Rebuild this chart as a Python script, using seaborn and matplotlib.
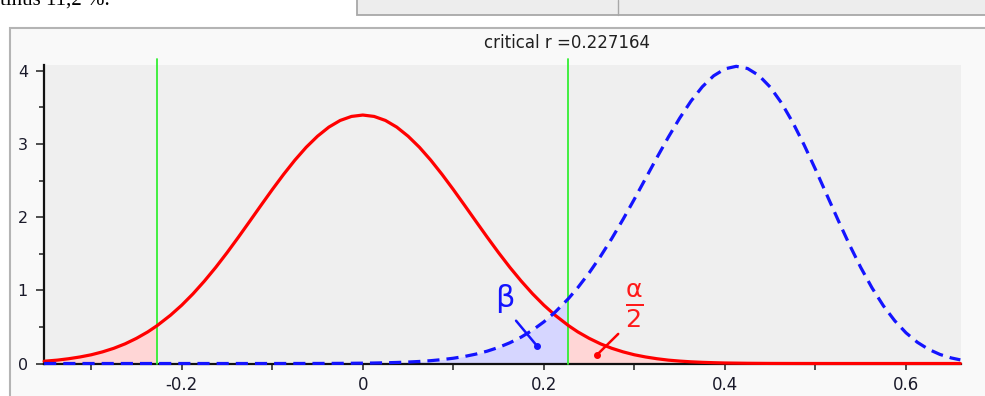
import numpy as np
import pandas as pd
import seaborn as sns
import matplotlib.pyplot as plt
from matplotlib.patches import Rectangle
from matplotlib.ticker import MultipleLocator

# valori (pas 0.0125)
r_grid = [-0.352, -0.3375, -0.325, -0.3125, -0.3, -0.2875, -0.275, -0.2625, -0.25, -0.2375,
          -0.227164, -0.2125, -0.2, -0.1875, -0.175, -0.1625, -0.15, -0.1375, -0.125, -0.1125,
          -0.1, -0.0875, -0.075, -0.0625, -0.05, -0.0375, -0.025, -0.0125, 0.0,
          0.0125, 0.025, 0.0375, 0.05, 0.0625, 0.075, 0.0875, 0.1, 0.1125, 0.125, 0.1375,
          0.15, 0.1625, 0.175, 0.1875, 0.2, 0.2125, 0.227164, 0.2375, 0.25, 0.2625, 0.275,
          0.2875, 0.3, 0.3125, 0.325, 0.3375, 0.35, 0.3625, 0.375, 0.3875, 0.4, 0.4125, 0.425,
          0.4375, 0.45, 0.4625, 0.475, 0.4875, 0.5, 0.5125, 0.525, 0.5375, 0.55, 0.5625, 0.575,
          0.5875, 0.6, 0.6125, 0.625, 0.6375, 0.65, 0.66]
dens_h0 = [0.031, 0.046, 0.065, 0.089, 0.119, 0.159, 0.208, 0.269, 0.344, 0.432,
           0.518, 0.659, 0.797, 0.953, 1.126, 1.313, 1.514, 1.725, 1.942, 2.161,
           2.377, 2.585, 2.780, 2.956, 3.107, 3.231, 3.322, 3.377, 3.396,
           3.377, 3.322, 3.231, 3.107, 2.956, 2.780, 2.585, 2.377, 2.161, 1.942, 1.725,
           1.514, 1.313, 1.126, 0.953, 0.797, 0.659, 0.518, 0.432, 0.344, 0.269, 0.208,
           0.159, 0.119, 0.089, 0.065, 0.046, 0.033, 0.023, 0.016, 0.011, 0.007, 0.005, 0.003,
           0.002, 0.001, 0.0007, 0.0004, 0.0002, 0.0001, 0.0, 0.0, 0.0, 0.0, 0.0, 0.0,
           0.0, 0.0, 0.0, 0.0, 0.0, 0.0, 0.0]
dens_h1 = [0.0, 0.0, 0.0, 0.0, 0.0, 0.0, 0.0, 0.0, 0.0, 0.0,
           0.0, 0.0, 0.0, 0.0, 0.0, 0.0, 0.0, 0.0, 0.0, 0.0,
           0.0002, 0.0003, 0.0005, 0.0007, 0.0009, 0.0014, 0.0021, 0.0032, 0.0047,
           0.0068, 0.0098, 0.0141, 0.0199, 0.0279, 0.0387, 0.0532, 0.0720, 0.0967, 0.1286, 0.1691,
           0.2202, 0.2838, 0.3616, 0.4561, 0.5692, 0.7029, 0.8877, 1.0370, 1.2387, 1.4632, 1.7082,
           1.9715, 2.2480, 2.5323, 2.8175, 3.0939, 3.3536, 3.5866, 3.7823, 3.9321, 4.0274, 4.0620, 4.0321,
           3.9367, 3.7777, 3.5604, 3.2933, 2.9863, 2.6526, 2.3056, 1.9595, 1.6241, 1.3127, 1.0325, 0.7888,
           0.5848, 0.4193, 0.2903, 0.1935, 0.1239, 0.0759, 0.0495]
critical_r = 0.227164
x_ticks = [-0.2, 0.0, 0.2, 0.4, 0.6]
x_tick_labels = ['-0.2', '0', '0.2', '0.4', '0.6']
y_ticks = [0, 1, 2, 3, 4]

df = pd.DataFrame({'r': r_grid, 'h0': dens_h0, 'h1': dens_h1})

sns.set_style('white')
plt.rcParams['font.family'] = ['DejaVu Sans']
plt.rcParams['axes.unicode_minus'] = False

fig = plt.figure(figsize=(9.85, 3.96), dpi=100)
fig.patch.set_facecolor('white')

# cadrul ferestrei si bara de sus
fig.add_artist(Rectangle((10 / 985, -0.02), 1.0, 1 - 28 / 396 + 0.02, transform=fig.transFigure,
                         facecolor='#f9f9f9', edgecolor='#b4b4b4', lw=1.5, zorder=0))
fig.add_artist(Rectangle((357 / 985, 1 - 15 / 396), 0.7, 0.1, transform=fig.transFigure,
                         facecolor='#ededed', edgecolor='#a8a8a8', lw=1.3, zorder=0))
fig.add_artist(plt.Line2D([618 / 985, 618 / 985], [1 - 15 / 396, 1.0], transform=fig.transFigure,
                          color='#a8a8a8', lw=1.0))
fig.text(0.0, 1 - 5 / 396, 'tinus 11,2 %.', fontsize=15, family='Liberation Serif',
         va='baseline', ha='left', color='black')

ax = fig.add_axes([44.3 / 985, 1 - 363.5 / 396, 916.4 / 985, 298.5 / 396])
ax.set_facecolor('#efefef')

# zonele colorate
st = df[df['r'] <= -critical_r]
ax.fill_between(st['r'], 0, st['h0'], color='#ffd6d6', lw=0, zorder=1)
bl = df[df['r'] <= critical_r]
ax.fill_between(bl['r'], 0, bl['h1'], color='#d6d6ff', lw=0, zorder=1)
dr = df[df['r'] >= critical_r]
ax.fill_between(dr['r'], 0, dr['h0'], color='#ffd6d6', lw=0, zorder=1)

sns.lineplot(data=df, x='r', y='h0', color='#ff0000', lw=2.3, ax=ax, zorder=4, clip_on=False,
             solid_joinstyle='round')
sns.lineplot(data=df, x='r', y='h1', color='#1414ff', lw=2.3, ax=ax, zorder=4, clip_on=False)
ax.lines[-1].set_dashes((3.8, 2.2))

for cx in (-critical_r, critical_r):
    ax.axvline(cx, ymin=0, ymax=1.02, color='#33ee33', lw=1.3, clip_on=False, zorder=3)

# adnotari beta si alpha/2
ax.text(0.157, 0.89, '\u03b2', color='#1414ff', fontsize=22, ha='center', va='center', zorder=5)
ax.annotate('', xy=(0.1927, 0.236), xytext=(0.1673, 0.614),
            arrowprops=dict(arrowstyle='-', color='#1414ff', lw=1.8), zorder=5)
ax.plot([0.1927], [0.236], 'o', color='#1414ff', ms=4, zorder=5)

ax.text(0.2998, 0.79, r'$\frac{\mathrm{\alpha}}{\mathrm{2}}$', color='#ff1a1a', fontsize=26,
        ha='center', va='center', zorder=5)
ax.annotate('', xy=(0.2583, 0.114), xytext=(0.2843, 0.431),
            arrowprops=dict(arrowstyle='-', color='#ff0000', lw=1.8), zorder=5)
ax.plot([0.2583], [0.114], 'o', color='#ff0000', ms=4, zorder=5)

ax.set_xlim(-0.3518, 0.6604)
ax.set_ylim(0, 4.08)
ax.set_xticks(x_ticks)
ax.set_xticklabels(x_tick_labels)
ax.set_yticks(y_ticks)
ax.xaxis.set_minor_locator(MultipleLocator(0.1))
ax.yaxis.set_minor_locator(MultipleLocator(0.5))
ax.tick_params(axis='x', which='both', direction='out', length=4.3, width=1.2, color='#303030',
               labelsize=12, pad=5, labelcolor='#1a1a2a', bottom=True)
ax.tick_params(axis='y', which='major', direction='out', length=5.8, width=1.2, color='#303030',
               labelsize=11.5, pad=6, labelcolor='#1a1a2a', left=True)
ax.tick_params(axis='y', which='minor', direction='out', length=3.6, width=1.2, color='#303030', left=True)
ax.set_xlabel('')
ax.set_ylabel('')
for s in ('top', 'right'):
    ax.spines[s].set_visible(False)
for s in ('left', 'bottom'):
    ax.spines[s].set_color('#111111')
    ax.spines[s].set_linewidth(1.6)

fig.text(567 / 985, 1 - 43 / 396, 'critical r =0.227164', fontsize=12, ha='center', va='center',
         color='#202020')

fig.savefig('out.png', dpi=100)
